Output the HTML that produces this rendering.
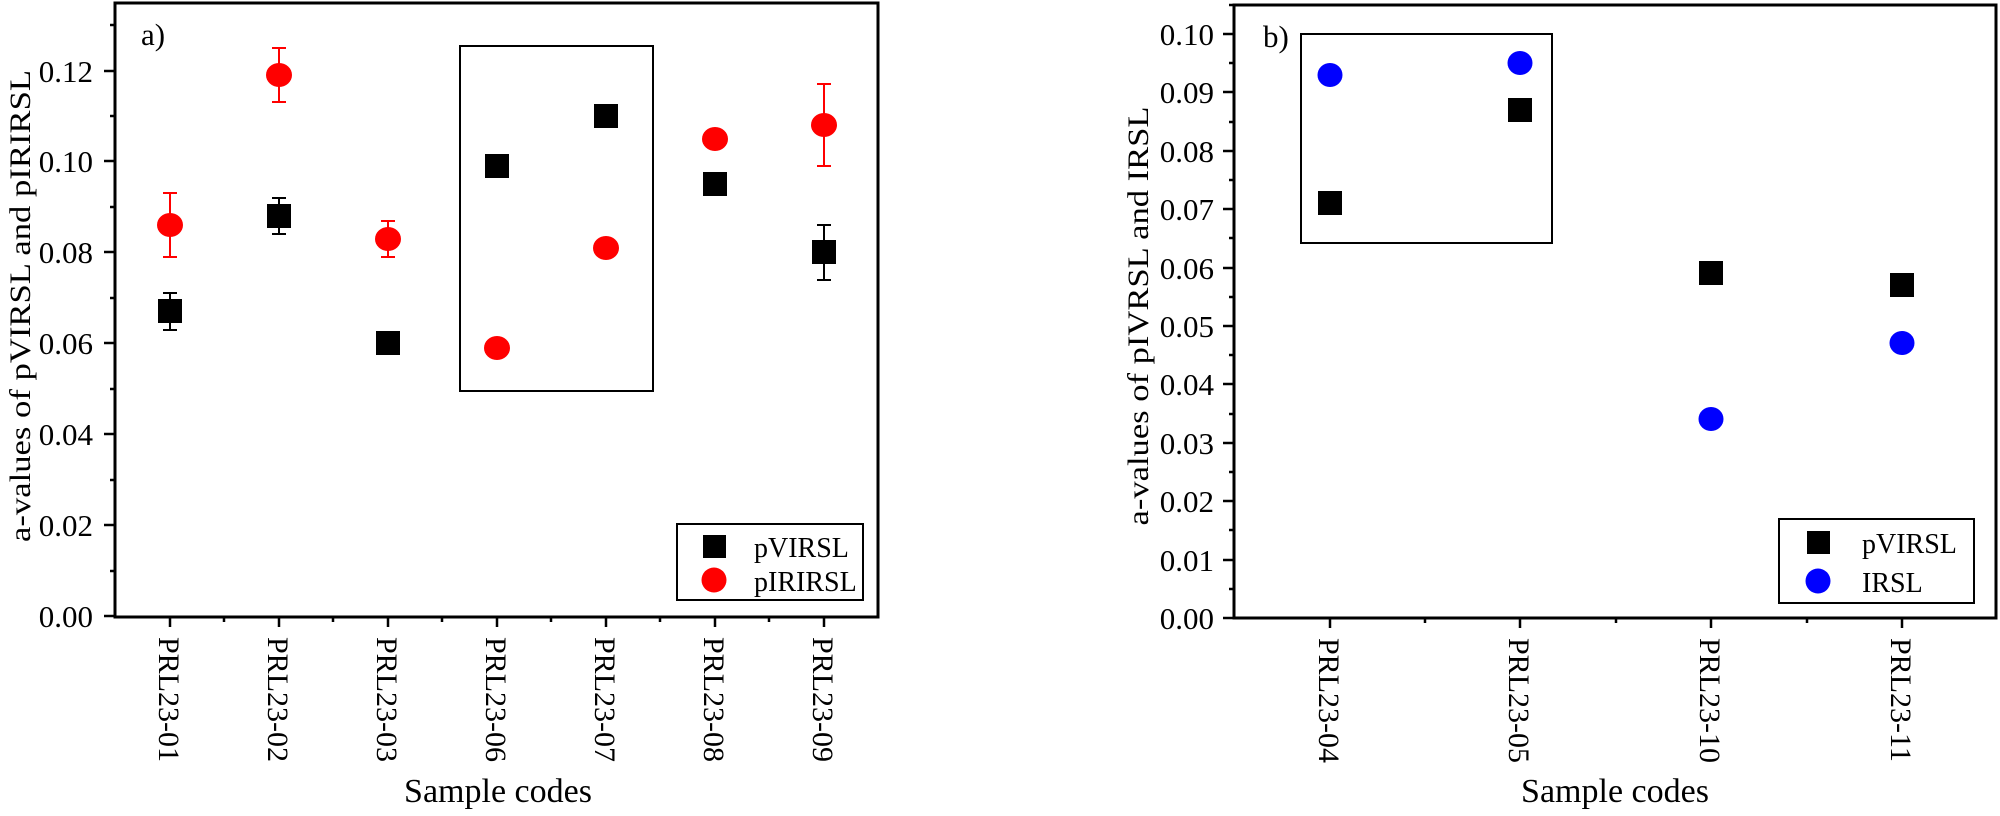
<!DOCTYPE html>
<html><head><meta charset="utf-8"><style>html,body{margin:0;padding:0;background:#fff}svg{display:block}</style></head>
<body>
<svg width="2000" height="816" viewBox="0 0 2000 816" xmlns="http://www.w3.org/2000/svg" font-family="Liberation Serif, serif">
<g id="left">
<rect x="115" y="3" width="763" height="614" fill="none" stroke="#000" stroke-width="3"/>
<g stroke="#000" stroke-width="2.5">
<line x1="104" y1="616" x2="115" y2="616"/><line x1="104" y1="525" x2="115" y2="525"/><line x1="104" y1="434" x2="115" y2="434"/><line x1="104" y1="343" x2="115" y2="343"/><line x1="104" y1="252" x2="115" y2="252"/><line x1="104" y1="161" x2="115" y2="161"/><line x1="104" y1="71" x2="115" y2="71"/>
<line x1="110" y1="571" x2="115" y2="571"/><line x1="110" y1="480" x2="115" y2="480"/><line x1="110" y1="389" x2="115" y2="389"/><line x1="110" y1="298" x2="115" y2="298"/><line x1="110" y1="207" x2="115" y2="207"/><line x1="110" y1="116" x2="115" y2="116"/><line x1="110" y1="25" x2="115" y2="25"/>
<line x1="170" y1="617" x2="170" y2="627"/><line x1="279" y1="617" x2="279" y2="627"/><line x1="388" y1="617" x2="388" y2="627"/><line x1="497" y1="617" x2="497" y2="627"/><line x1="606" y1="617" x2="606" y2="627"/><line x1="715" y1="617" x2="715" y2="627"/><line x1="824" y1="617" x2="824" y2="627"/>
<line x1="224" y1="617" x2="224" y2="622"/><line x1="333" y1="617" x2="333" y2="622"/><line x1="442" y1="617" x2="442" y2="622"/><line x1="551" y1="617" x2="551" y2="622"/><line x1="660" y1="617" x2="660" y2="622"/><line x1="769" y1="617" x2="769" y2="622"/>
</g>
<g font-size="31" text-anchor="end">
<text x="93" y="627">0.00</text><text x="93" y="536">0.02</text><text x="93" y="445">0.04</text><text x="93" y="354">0.06</text><text x="93" y="263">0.08</text><text x="93" y="172">0.10</text><text x="93" y="82">0.12</text>
</g>
<g font-size="30">
<text transform="translate(159,637) rotate(90)">PRL23-01</text>
<text transform="translate(268,637) rotate(90)">PRL23-02</text>
<text transform="translate(377,637) rotate(90)">PRL23-03</text>
<text transform="translate(486,637) rotate(90)">PRL23-06</text>
<text transform="translate(595,637) rotate(90)">PRL23-07</text>
<text transform="translate(704,637) rotate(90)">PRL23-08</text>
<text transform="translate(813,637) rotate(90)">PRL23-09</text>
</g>
<text x="498" y="802" font-size="34" text-anchor="middle">Sample codes</text>
<text transform="translate(30,306) rotate(-90)" font-size="30" text-anchor="middle" textLength="472" lengthAdjust="spacingAndGlyphs">a-values of pVIRSL and pIRIRSL</text>
<text x="141" y="45" font-size="31">a)</text>
<rect x="460" y="46" width="193" height="345" fill="none" stroke="#000" stroke-width="2"/>
<g stroke="#000" stroke-width="2">
<line x1="170" y1="330" x2="170" y2="293"/><line x1="163" y1="330" x2="177" y2="330"/><line x1="163" y1="293" x2="177" y2="293"/>
<line x1="279" y1="234" x2="279" y2="198"/><line x1="272" y1="234" x2="286" y2="234"/><line x1="272" y1="198" x2="286" y2="198"/>
<line x1="824" y1="280" x2="824" y2="225"/><line x1="817" y1="280" x2="831" y2="280"/><line x1="817" y1="225" x2="831" y2="225"/>
</g>
<g stroke="#f00" stroke-width="2">
<line x1="170" y1="257" x2="170" y2="193"/><line x1="163" y1="257" x2="177" y2="257"/><line x1="163" y1="193" x2="177" y2="193"/>
<line x1="279" y1="102" x2="279" y2="48"/><line x1="272" y1="102" x2="286" y2="102"/><line x1="272" y1="48" x2="286" y2="48"/>
<line x1="388" y1="257" x2="388" y2="221"/><line x1="381" y1="257" x2="395" y2="257"/><line x1="381" y1="221" x2="395" y2="221"/>
<line x1="824" y1="166" x2="824" y2="84"/><line x1="817" y1="166" x2="831" y2="166"/><line x1="817" y1="84" x2="831" y2="84"/>
</g>
<g fill="#000">
<rect x="158" y="299" width="24" height="24"/>
<rect x="267" y="204" width="24" height="24"/>
<rect x="376" y="331" width="24" height="24"/>
<rect x="485" y="154" width="24" height="24"/>
<rect x="594" y="104" width="24" height="24"/>
<rect x="703" y="172" width="24" height="24"/>
<rect x="812" y="240" width="24" height="24"/>
</g>
<g fill="#f00">
<ellipse cx="170" cy="225" rx="13" ry="12"/>
<ellipse cx="279" cy="75" rx="13" ry="12"/>
<ellipse cx="388" cy="239" rx="13" ry="12"/>
<ellipse cx="497" cy="348" rx="13" ry="12"/>
<ellipse cx="606" cy="248" rx="13" ry="12"/>
<ellipse cx="715" cy="139" rx="13" ry="12"/>
<ellipse cx="824" cy="125" rx="13" ry="12"/>
</g>
<rect x="677" y="524" width="186" height="76" fill="#fff" stroke="#000" stroke-width="2"/>
<rect x="703" y="535" width="23" height="23" fill="#000"/>
<circle cx="714" cy="580" r="12.5" fill="#f00"/>
<text x="754" y="557" font-size="28">pVIRSL</text>
<text x="754" y="591" font-size="28">pIRIRSL</text>
</g>
<g id="right">
<rect x="1234" y="5" width="762" height="613" fill="none" stroke="#000" stroke-width="3"/>
<g stroke="#000" stroke-width="2.5">
<line x1="1223" y1="618" x2="1234" y2="618"/><line x1="1223" y1="560" x2="1234" y2="560"/><line x1="1223" y1="501" x2="1234" y2="501"/><line x1="1223" y1="443" x2="1234" y2="443"/><line x1="1223" y1="384" x2="1234" y2="384"/><line x1="1223" y1="326" x2="1234" y2="326"/><line x1="1223" y1="268" x2="1234" y2="268"/><line x1="1223" y1="209" x2="1234" y2="209"/><line x1="1223" y1="151" x2="1234" y2="151"/><line x1="1223" y1="92" x2="1234" y2="92"/><line x1="1223" y1="34" x2="1234" y2="34"/>
<line x1="1229" y1="589" x2="1234" y2="589"/><line x1="1229" y1="530" x2="1234" y2="530"/><line x1="1229" y1="472" x2="1234" y2="472"/><line x1="1229" y1="414" x2="1234" y2="414"/><line x1="1229" y1="355" x2="1234" y2="355"/><line x1="1229" y1="297" x2="1234" y2="297"/><line x1="1229" y1="238" x2="1234" y2="238"/><line x1="1229" y1="180" x2="1234" y2="180"/><line x1="1229" y1="122" x2="1234" y2="122"/><line x1="1229" y1="63" x2="1234" y2="63"/><line x1="1229" y1="5" x2="1234" y2="5"/>
<line x1="1330" y1="618" x2="1330" y2="628"/><line x1="1520" y1="618" x2="1520" y2="628"/><line x1="1711" y1="618" x2="1711" y2="628"/><line x1="1902" y1="618" x2="1902" y2="628"/>
<line x1="1425" y1="618" x2="1425" y2="623"/><line x1="1616" y1="618" x2="1616" y2="623"/><line x1="1807" y1="618" x2="1807" y2="623"/>
</g>
<g font-size="31" text-anchor="end">
<text x="1214" y="629">0.00</text><text x="1214" y="571">0.01</text><text x="1214" y="512">0.02</text><text x="1214" y="454">0.03</text><text x="1214" y="395">0.04</text><text x="1214" y="337">0.05</text><text x="1214" y="279">0.06</text><text x="1214" y="220">0.07</text><text x="1214" y="162">0.08</text><text x="1214" y="103">0.09</text><text x="1214" y="45">0.10</text>
</g>
<g font-size="30">
<text transform="translate(1319,638) rotate(90)">PRL23-04</text>
<text transform="translate(1509,638) rotate(90)">PRL23-05</text>
<text transform="translate(1700,638) rotate(90)">PRL23-10</text>
<text transform="translate(1891,638) rotate(90)">PRL23-11</text>
</g>
<text x="1615" y="802" font-size="34" text-anchor="middle">Sample codes</text>
<text transform="translate(1148,316) rotate(-90)" font-size="30" text-anchor="middle" textLength="419" lengthAdjust="spacingAndGlyphs">a-values of pIVRSL and IRSL</text>
<text x="1263" y="47" font-size="31">b)</text>
<rect x="1301" y="34" width="251" height="209" fill="none" stroke="#000" stroke-width="2"/>
<g fill="#000">
<rect x="1318" y="191" width="24" height="24"/>
<rect x="1508" y="98" width="24" height="24"/>
<rect x="1699" y="261" width="24" height="24"/>
<rect x="1890" y="273" width="24" height="24"/>
</g>
<g fill="#00f">
<ellipse cx="1330" cy="75" rx="12.5" ry="12"/>
<ellipse cx="1520" cy="63" rx="12.5" ry="12"/>
<ellipse cx="1711" cy="419" rx="12.5" ry="12"/>
<ellipse cx="1902" cy="343" rx="12.5" ry="12"/>
</g>
<rect x="1779" y="519" width="195" height="84" fill="#fff" stroke="#000" stroke-width="2"/>
<rect x="1807" y="531" width="23" height="23" fill="#000"/>
<circle cx="1818" cy="581" r="12.5" fill="#00f"/>
<text x="1862" y="553" font-size="28">pVIRSL</text>
<text x="1862" y="592" font-size="28">IRSL</text>
</g>
</svg>
</body></html>
